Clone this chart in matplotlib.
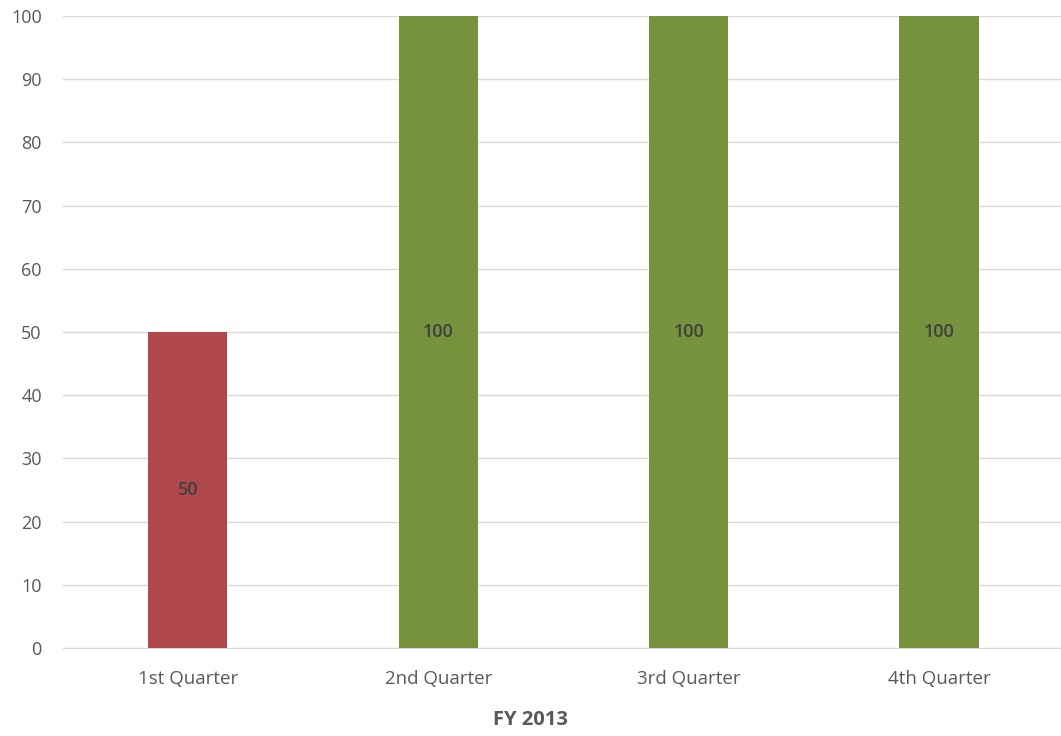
import matplotlib.pyplot as plt

# квартальные значения за FY 2013
quarters = ['1st Quarter', '2nd Quarter', '3rd Quarter', '4th Quarter']
values = [50, 100, 100, 100]
colors = ['#B0474A', '#76923C', '#76923C', '#76923C']

plt.rcParams['font.family'] = ['Open Sans', 'DejaVu Sans']

fig = plt.figure(figsize=(10.61, 7.36), dpi=100)
ax = fig.add_axes([0.059, 0.1196, 0.944, 0.8587])

x = range(len(quarters))
bars = ax.bar(x, values, width=0.316, color=colors, zorder=3)

# подписи по центру столбцов
for rect, v in zip(bars, values):
    ax.text(rect.get_x() + rect.get_width() / 2, v / 2, str(v),
            ha='center', va='center', fontsize=13, fontweight='semibold',
            color='#404040', zorder=4)

ax.set_xlim(-0.5, 3.5)
ax.set_ylim(0, 100)
ax.set_yticks(range(0, 101, 10))
ax.set_xticks(list(x))
ax.set_xticklabels(quarters)
ax.yaxis.grid(True, color='#D9D9D9', linewidth=1, zorder=0)
ax.tick_params(axis='both', length=0, labelsize=13, colors='#595959')
ax.tick_params(axis='x', labelsize=13.5, pad=16)
ax.tick_params(axis='y', pad=15)

for s in ['top', 'right', 'left']:
    ax.spines[s].set_visible(False)
ax.spines['bottom'].set_color('#D9D9D9')

# подпись оси по центру всей картинки
ax.set_xlabel('FY 2013', fontsize=14.5, fontweight='bold', color='#595959')
ax.xaxis.set_label_coords(0.467, -0.098)

fig.savefig('out.png', dpi=100)
